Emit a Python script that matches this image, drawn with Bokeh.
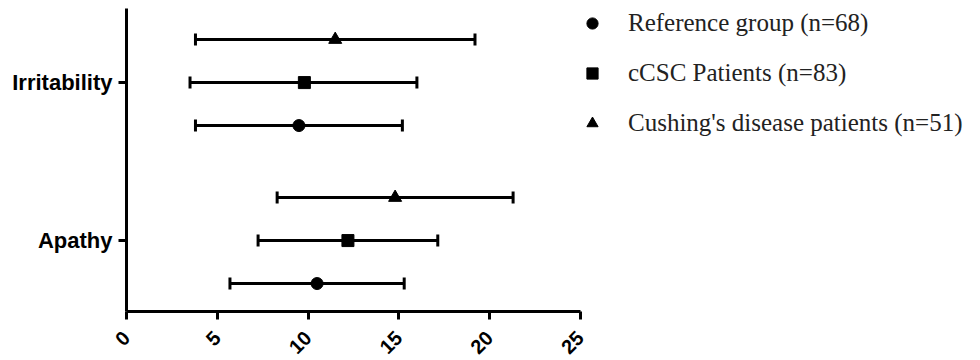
import math
from bokeh.plotting import figure
from bokeh.models import (ColumnDataSource, Range1d, FixedTicker, Whisker, TeeHead,
                          Legend, LegendItem)
from bokeh.embed import file_html
from bokeh.resources import INLINE

# ---------------- data ----------------
categories = ["Apathy", "Irritability"]
groups = ["Reference group (n=68)", "cCSC Patients (n=83)", "Cushing's disease patients (n=51)"]
markers = ["circle", "square", "triangle"]

ref_mean = [10.5, 9.5]
ref_low = [5.7, 3.8]
ref_high = [15.3, 15.2]

ccsc_mean = [12.2, 9.8]
ccsc_low = [7.25, 3.5]
ccsc_high = [17.15, 16.0]

cush_mean = [14.8, 11.5]
cush_low = [8.3, 3.8]
cush_high = [21.3, 19.2]

x_ticks = [0, 5, 10, 15, 20, 25]

series = [
    (ref_mean, ref_low, ref_high),
    (ccsc_mean, ccsc_low, ccsc_high),
    (cush_mean, cush_low, cush_high),
]
offsets = [-0.272, 0.0, 0.272]
marker_sizes = [12, 12, 13]

p = figure(frame_width=838, frame_height=303,
           x_range=Range1d(0, 46.17), y_range=Range1d(0.551, 2.469),
           output_backend="svg", toolbar_location=None,
           min_border_left=126, min_border_right=0, min_border_top=8, min_border_bottom=40)
p.outline_line_color = None
p.xgrid.visible = False
p.ygrid.visible = False
p.background_fill_color = "white"
p.border_fill_color = "white"

legend_items = []
for (mean, low, high), off, name, mk, ms in zip(series, offsets, groups, markers, marker_sizes):
    ypos = [categories.index(c) + 1 + off for c in categories]
    src = ColumnDataSource(dict(x=mean, low=low, high=high, y=ypos))
    w = Whisker(base="y", lower="low", upper="high", dimension="width", source=src,
                line_color="black", line_width=3,
                upper_head=TeeHead(size=12, line_width=3, line_color="black"),
                lower_head=TeeHead(size=12, line_width=3, line_color="black"))
    p.add_layout(w)
    r = p.scatter("x", "y", source=src, marker=mk, size=ms,
                  fill_color="black", line_color="black")
    legend_items.append(LegendItem(label=name, renderers=[r]))

# axes
xa = p.xaxis[0]
xa.bounds = (0, 25)
xa.ticker = FixedTicker(ticks=x_ticks)
xa.axis_line_width = 3
xa.major_tick_line_width = 3
xa.major_tick_out = 8
xa.major_tick_in = 0
xa.minor_tick_line_color = None
xa.major_label_orientation = math.pi / 4
xa.major_label_text_font = "Liberation Sans"
xa.major_label_text_font_style = "bold"
xa.major_label_text_font_size = "20px"
xa.major_label_text_color = "black"
xa.major_label_standoff = 15

ya = p.yaxis[0]
ya.ticker = FixedTicker(ticks=[i + 1 for i in range(len(categories))])
ya.major_label_overrides = {i + 1: c for i, c in enumerate(categories)}
ya.axis_line_width = 3
ya.major_tick_line_width = 3
ya.major_tick_out = 8
ya.major_tick_in = 0
ya.minor_tick_line_color = None
ya.major_label_text_font = "Liberation Sans"
ya.major_label_text_font_style = "bold"
ya.major_label_text_font_size = "22px"
ya.major_label_text_color = "black"
ya.major_label_standoff = 6

legend = Legend(items=legend_items, location=(452, 173),
                glyph_width=28, glyph_height=30, spacing=20, label_standoff=22,
                padding=0, margin=0, border_line_color=None, background_fill_alpha=0,
                label_text_font="Liberation Serif", label_text_font_size="25px",
                label_text_color="#222222")
p.add_layout(legend)

open("out.html", "w").write(file_html(p, INLINE))
